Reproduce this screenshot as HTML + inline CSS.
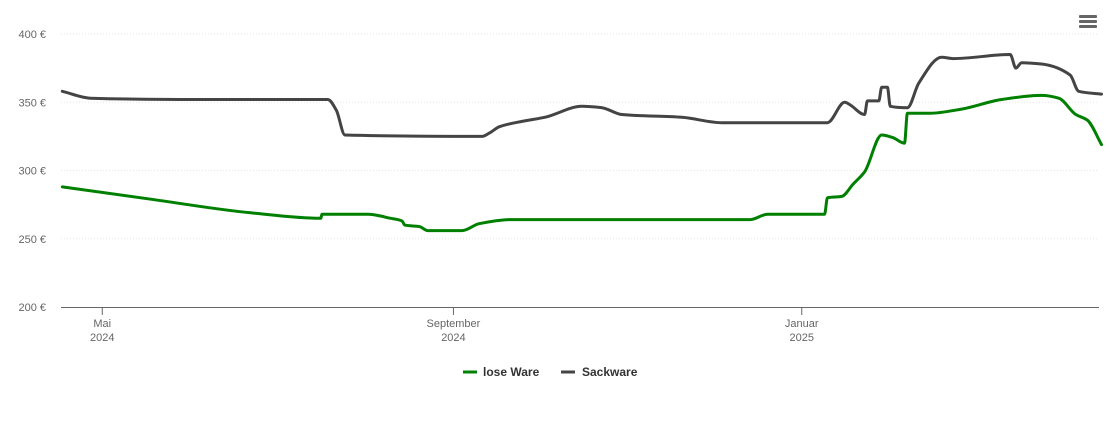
<!DOCTYPE html>
<html><head><meta charset="utf-8"><style>
body{margin:0;background:#fff;font-family:"Liberation Sans",sans-serif}
svg text{font-family:"Liberation Sans",sans-serif}
</style></head><body>
<svg id="c" width="1110" height="422">
<g id="grid"></g><g id="axes"></g><g id="series"></g>
<g>
<rect x="1079" y="15" width="18" height="3" rx="1" fill="#666"/>
<rect x="1079" y="20" width="18" height="3" rx="1" fill="#666"/>
<rect x="1079" y="25" width="18" height="3" rx="1" fill="#666"/>
</g>
<g>
<line x1="463" y1="372" x2="477" y2="372" stroke="#008000" stroke-width="3"/>
<text x="483" y="376" font-size="12" font-weight="bold" fill="#333">lose Ware</text>
</g>
<g>
<line x1="561" y1="372" x2="575" y2="372" stroke="#444" stroke-width="3"/>
<text x="582" y="376" font-size="12" font-weight="bold" fill="#333">Sackware</text>
</g>
</svg>
<script>
const yTicks=[200,250,300,350,400];
const yTickLabels=["200 €","250 €","300 €","350 €","400 €"];
const xTickDays=[14,137,259];
const xTickLabels=[["Mai","2024"],["September","2024"],["Januar","2025"]];
const looseDays=[0,31,66,90.5,91,107,115,119,120,125,128,140,146,157,241,247,267,268,273,277,281,287,291,295,296,304,315,329,343,349,355,359,364];
const looseVals=[288,279,269,265,268,268,265,263,260,259,256,256,261,264,264,268,268,280,281,290,299,326,324,320,342,342,345,352,355,353,341,337,319];
const sackDays=[0,10,48,93,96,99,147,150,153,161,169,182,189,196,217,231,268,274,276,281,282,286,287,289,290,296,300,308,312,332,334,336,343,353,356,364];
const sackVals=[358,353,352,352,344,326,325,328,332,336,339,347,346,341,339,335,335,350,348,341,351,351,361,361,347,346,364,383,382,385,375,379,378,370,358,356];
const NS="http://www.w3.org/2000/svg";
const L=61,R=1099,T=34,B=307;
const xs=d=>62.3+d*2.855;
const ys=v=>B-(v-200)/200*(B-T);
function mk(tag,attrs,parent){const e=document.createElementNS(NS,tag);for(const k in attrs)e.setAttribute(k,attrs[k]);document.getElementById(parent).appendChild(e);return e;}
yTicks.forEach((v,i)=>{
 if(v>200){const g=mk('line',{x1:L,x2:R,y1:ys(v),y2:ys(v),stroke:'#e6e6e6','stroke-dasharray':'1,2'},'grid');
 
 }
 const t=mk('text',{x:46,y:ys(v)+4,'text-anchor':'end','font-size':11,fill:'#666'},'axes');t.textContent=yTickLabels[i];
 
 
});
const ax=mk('line',{x1:L,x2:R,y1:B+0.5,y2:B+0.5,stroke:'#666'},'axes');


xTickDays.forEach((d,i)=>{
 const x=xs(d);
 const tk=mk('line',{x1:x,x2:x,y1:B,y2:B+8,stroke:'#666'},'axes');
 
 
 const t=mk('text',{x:x,y:327,'text-anchor':'middle','font-size':11,fill:'#666'},'axes');
 
 
 const a=document.createElementNS(NS,'tspan');a.setAttribute('x',x);a.textContent=xTickLabels[i][0];t.appendChild(a);
 const b=document.createElementNS(NS,'tspan');b.setAttribute('x',x);b.setAttribute('dy','14');b.textContent=xTickLabels[i][1];t.appendChild(b);
});
function monotonePath(px,py){
 const n=px.length;const m=new Array(n);const s=[];
 for(let i=0;i<n-1;i++){s.push((py[i+1]-py[i])/((px[i+1]-px[i])||1e-6));}
 m[0]=s[0];m[n-1]=s[n-2];
 for(let i=1;i<n-1;i++){
  if(s[i-1]*s[i]<=0)m[i]=0;
  else{const h0=px[i]-px[i-1],h1=px[i+1]-px[i];
   m[i]=3*(h0+h1)/((2*h1+h0)/s[i-1]+(h1+2*h0)/s[i]);}
 }
 let d='M'+px[0].toFixed(1)+','+py[0].toFixed(1);
 for(let i=0;i<n-1;i++){
  const h=(px[i+1]-px[i])/3;
  d+=' C'+(px[i]+h).toFixed(1)+','+(py[i]+m[i]*h).toFixed(1)+' '+(px[i+1]-h).toFixed(1)+','+(py[i+1]-m[i+1]*h).toFixed(1)+' '+px[i+1].toFixed(1)+','+py[i+1].toFixed(1);
 }
 return d;
}
function series(days,vals,color,name){
 const d=monotonePath(days.map(xs),vals.map(ys));
 const p=mk('path',{d:d,fill:'none',stroke:color,'stroke-width':3,'stroke-linejoin':'round','stroke-linecap':'round'},'series');
 
 
}
series(looseDays,looseVals,'#008000','lose-ware-line');
series(sackDays,sackVals,'#444444','sackware-line');
</script>
</body></html>
